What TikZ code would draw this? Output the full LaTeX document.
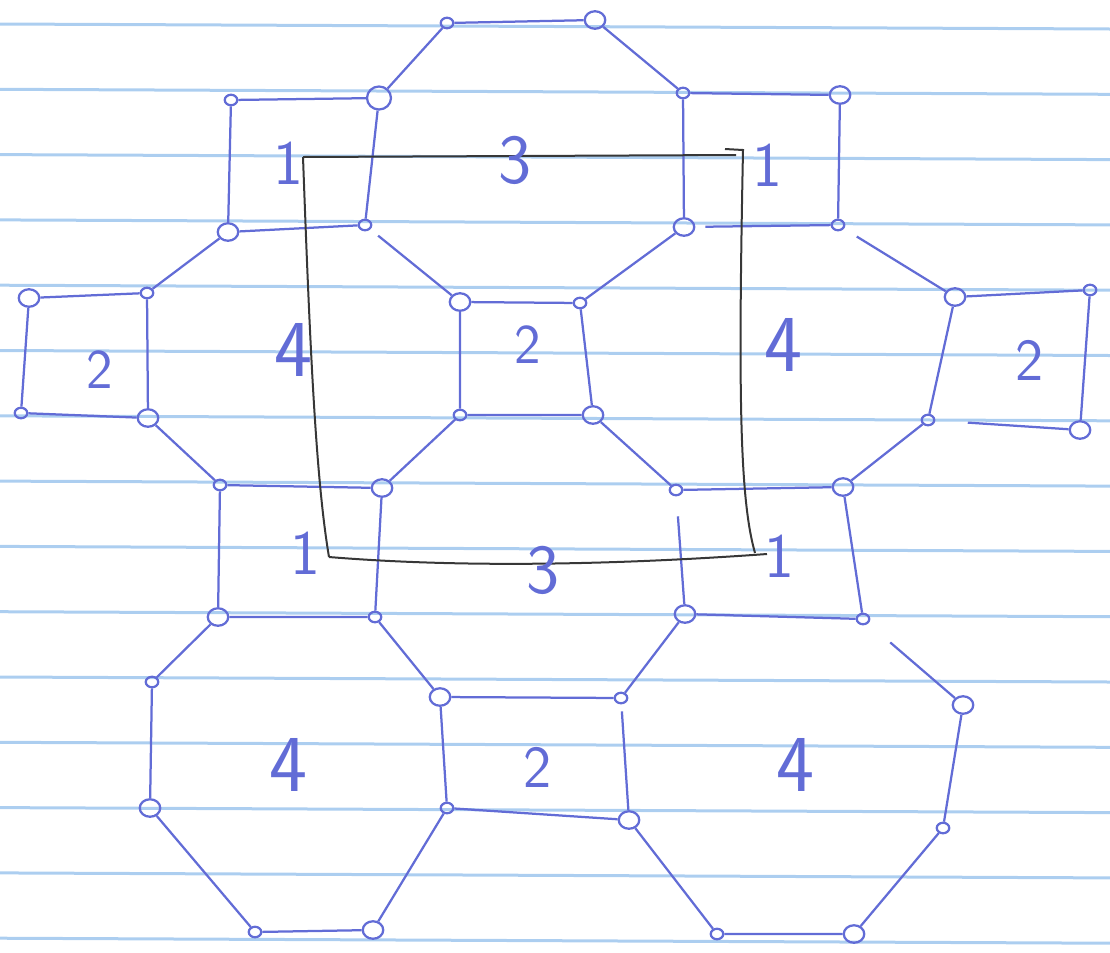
\documentclass[tikz,border=0pt]{standalone}
\usetikzlibrary{shapes.geometric}

\definecolor{pen}{RGB}{98,108,214}
\definecolor{rule}{RGB}{172,206,240}
\definecolor{pencil}{RGB}{55,55,55}

\begin{document}
\begin{tikzpicture}[
  x=0.2mm, y=-0.2mm,
  dot/.style={ellipse, draw=pen, line width=0.45mm, minimum width=2.5mm, minimum height=2.1mm, inner sep=0pt},
  ring/.style={ellipse, draw=pen, line width=0.45mm, minimum width=4.1mm, minimum height=3.5mm, inner sep=0pt},
  bond/.style={draw=pen, line width=0.45mm},
  gap/.style={shorten <=#1},
  num/.style={text=pen, inner sep=0pt, font=\sffamily\fontsize{#1}{#1}\selectfont},
  num/.default=30,
  paper/.style={draw=rule, line width=0.6mm},
  frame/.style={draw=pencil, line width=0.4mm},
]
\useasboundingbox (0,0) rectangle (1110,952);

% ---------------- ruled paper ----------------
\foreach \k in {0,...,14}
  \draw[paper] (0,{24+65.3*\k}) -- (1110,{29+65.3*\k});

% ---------------- vertices ----------------
\node[dot]  (a1) at (447,23) {};
\node[ring] (a2) at (595,20) {};

\node[dot]  (b1) at (231,100) {};
\node[ring, minimum width=4.8mm, minimum height=4.6mm] (b2) at (379,98) {};
\node[dot]  (b3) at (683,93) {};
\node[ring] (b4) at (840,95) {};

\node[ring] (c1) at (228,232) {};
\node[dot]  (c2) at (365,225) {};
\node[ring] (c3) at (684,227) {};
\node[dot]  (c4) at (838,225) {};

\node[ring] (d1) at (29,298) {};
\node[dot]  (d2) at (147,293) {};
\node[ring] (d3) at (460,302) {};
\node[dot]  (d4) at (580,303) {};
\node[ring] (d5) at (955,297) {};
\node[dot]  (d6) at (1090,290) {};

\node[dot]  (e1) at (21,413) {};
\node[ring] (e2) at (148,418) {};
\node[dot]  (e3) at (460,415) {};
\node[ring] (e4) at (593,415) {};
\node[dot]  (e5) at (928,420) {};
\node[ring] (e6) at (1080,430) {};

\node[dot]  (f1) at (220,485) {};
\node[ring] (f2) at (382,488) {};
\node[dot]  (f3) at (676,490) {};
\node[ring] (f4) at (843,487) {};

\node[ring] (g1) at (218,617) {};
\node[dot]  (g2) at (375,617) {};
\node[ring] (g3) at (685,614) {};
\node[dot]  (g4) at (863,619) {};

\node[dot]  (h1) at (152,682) {};
\node[ring] (h2) at (440,697) {};
\node[dot]  (h3) at (621,698) {};
\node[ring] (h4) at (963,705) {};

\node[ring] (i1) at (150,808) {};
\node[dot]  (i2) at (447,808) {};
\node[ring] (i3) at (629,820) {};
\node[dot]  (i4) at (943,828) {};

\node[dot]  (j1) at (255,932) {};
\node[ring] (j2) at (373,930) {};
\node[dot]  (j3) at (717,934) {};
\node[ring] (j4) at (854,934) {};

% ---------------- edges ----------------
% top octagon
\draw[bond] (b2) -- (a1) -- (a2) -- (b3) -- (c3);
\draw[bond] (c3) -- (d4);
\draw[bond] (d4) -- (d3);
\draw[bond, gap=2mm] (c2) -- (d3);
\draw[bond] (c2) -- (b2);
% upper squares
\draw[bond] (b1) -- (b2);
\draw[bond] (b1) -- (c1) -- (c2);
\draw[bond] (b3) -- (b4) -- (c4);
\draw[bond, gap=2mm] (c3) -- (c4);
% left octagon
\draw[bond] (c1) -- (d2) -- (e2) -- (f1) -- (f2) -- (e3) -- (d3);
\draw[bond] (d1) -- (d2);
\draw[bond] (d1) -- (e1) -- (e2);
% centre square
\draw[bond] (d4) -- (e4) -- (e3);
% right octagon
\draw[bond, gap=3mm] (c4) -- (d5);
\draw[bond] (d5) -- (e5) -- (f4) -- (f3) -- (e4);
\draw[bond] (d5) -- (d6) -- (e6);
\draw[bond, gap=6.5mm] (e5) -- (e6);
% lower squares
\draw[bond] (f1) -- (g1) -- (g2) -- (f2);
\draw[bond, gap=4mm] (f3) -- (g3);
\draw[bond] (g3) -- (g4) -- (f4);
% middle octagon
\draw[bond] (g2) -- (h2) -- (h3) -- (g3);
% lower left octagon
\draw[bond] (g1) -- (h1) -- (i1) -- (j1) -- (j2) -- (i2) -- (h2);
% bottom square
\draw[bond, gap=1.4mm] (h3) -- (i3);
\draw[bond] (i3) -- (i2);
% lower right octagon
\draw[bond, gap=5.8mm] (g4) -- (h4);
\draw[bond] (h4) -- (i4) -- (j4) -- (j3) -- (i3);

% ---------------- pencil frame ----------------
\coordinate (ftl) at (303,157);
\coordinate (ftr) at (743,150);
\coordinate (fbr) at (755,553);
\coordinate (fbl) at (329,557);
\draw[frame] (ftl) -- (736,155);
\draw[frame] (725,149) -- (ftr) .. controls (738,400) and (740,500) .. (fbr);
\draw[frame] (fbl) .. controls (450,567) and (600,566) .. (767,554);
\draw[frame] (ftl) .. controls (310,350) and (316,480) .. (fbl);

% ---------------- labels ----------------
\node[num=36] (l1a) at (288,163) {1};
\node[num=40] (l3a) at (515,160) {3};
\node[num=36] (l1b) at (767,165) {1};
\node[num=32] (l2a) at (100,370) {2};
\node[num=46] (l4a) at (293,350) {4};
\node[num=32] (l2b) at (528,345) {2};
\node[num=46] (l4b) at (783,345) {4};
\node[num=34] (l2c) at (1030,360) {2};
\node[num=36] (l1c) at (305,553) {1};
\node[num=40] (l3b) at (543,570) {3};
\node[num=36] (l1d) at (779,556) {1};
\node[num=46] (l4c) at (288,765) {4};
\node[num=34] (l2d) at (538,767) {2};
\node[num=46] (l4d) at (795,765) {4};
\end{tikzpicture}
\end{document}
